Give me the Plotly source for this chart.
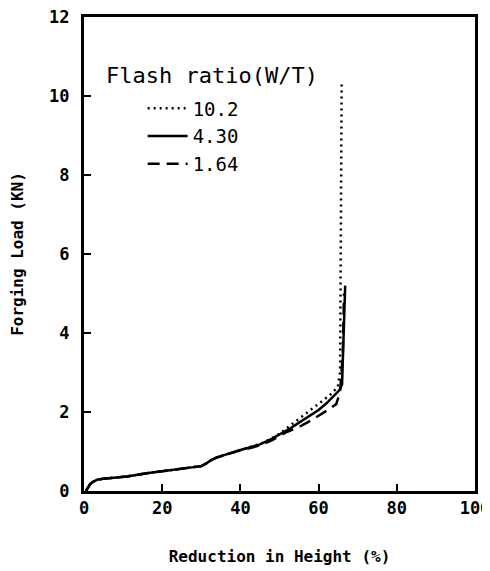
import plotly.graph_objects as go

# Flash ratio 10.2 (dotted)
x_102 = [0.5, 1.0, 1.6, 2.4, 3.5, 5, 8, 11, 16, 20, 24, 28, 30, 31.3, 32.5, 34, 37, 40, 43, 45, 48, 50,
         52, 55, 57, 60, 62.8, 64.9, 65.5, 65.6, 65.7, 65.8, 65.9]
y_102 = [0.0, 0.1, 0.18, 0.24, 0.29, 0.31, 0.34, 0.37, 0.45, 0.5, 0.55, 0.6, 0.63, 0.7, 0.78, 0.85, 0.95, 1.05, 1.13, 1.19, 1.33, 1.45,
         1.6, 1.82, 1.98, 2.2, 2.42, 2.63, 3.0, 5.0, 7.0, 9.0, 10.35]

# Flash ratio 4.30 (solid)
x_430 = [0.5, 1.0, 1.6, 2.4, 3.5, 5, 8, 11, 16, 20, 24, 28, 30, 31.3, 32.5, 34, 37, 40, 43, 45, 48, 50,
         53, 55, 58, 60, 62, 64, 65.3, 66.0, 66.3, 66.6, 66.8]
y_430 = [0.0, 0.1, 0.18, 0.24, 0.29, 0.31, 0.34, 0.37, 0.45, 0.5, 0.55, 0.6, 0.63, 0.7, 0.78, 0.85, 0.95, 1.04, 1.12, 1.18, 1.32, 1.43,
         1.6, 1.73, 1.92, 2.05, 2.22, 2.42, 2.55, 2.7, 3.5, 4.5, 5.2]

# Flash ratio 1.64 (dashed)
x_164 = [0.5, 1.0, 1.6, 2.4, 3.5, 5, 8, 11, 16, 20, 24, 28, 30, 31.3, 32.5, 34, 37, 40, 43, 45, 48, 50,
         52, 55.5, 58, 62, 64.5, 65.5, 66.2, 66.5]
y_164 = [0.0, 0.1, 0.18, 0.24, 0.29, 0.31, 0.34, 0.37, 0.45, 0.5, 0.55, 0.6, 0.63, 0.7, 0.78, 0.85, 0.95, 1.03, 1.1, 1.16, 1.28, 1.38,
         1.5, 1.65, 1.78, 2.03, 2.2, 2.5, 3.5, 5.0]

x_ticks = [0, 20, 40, 60, 80, 100]
y_ticks = [0, 2, 4, 6, 8, 10, 12]

MONO = "DejaVu Sans Mono"

fig = go.Figure()
fig.add_trace(go.Scatter(x=x_102, y=y_102, mode="lines", name="10.2",
                         line=dict(color="black", width=2.5, dash="2px,4px")))
fig.add_trace(go.Scatter(x=x_430, y=y_430, mode="lines", name="4.30",
                         line=dict(color="black", width=2.5)))
fig.add_trace(go.Scatter(x=x_164, y=y_164, mode="lines", name="1.64",
                         line=dict(color="black", width=2.5, dash="12px,7px")))

axis_common = dict(showgrid=False, zeroline=False, showline=True, linecolor="black", linewidth=3,
                   mirror=True, ticks="inside", ticklen=7, tickwidth=2, tickcolor="black",
                   automargin=False, ticklabeloverflow="allow",
                   tickfont=dict(family=MONO, size=17, color="black", weight="bold"))

fig.update_xaxes(range=[0, 100], tickvals=x_ticks, **axis_common,
                 title=dict(text="Reduction in Height (%)", standoff=34,
                            font=dict(family=MONO, size=16, color="black", weight="bold")))
fig.update_yaxes(range=[0, 12], tickvals=y_ticks, ticklabelstandoff=8, **axis_common,
                 title=dict(text="Forging Load (KN)", standoff=22,
                            font=dict(family=MONO, size=16, color="black", weight="bold")))

fig.add_annotation(text="Flash ratio(W/T)", xref="paper", yref="paper", x=0.05, y=0.876,
                   xanchor="left", yanchor="middle", showarrow=False,
                   font=dict(family=MONO, size=22, color="black"))

fig.update_layout(
    width=482, height=563,
    margin=dict(l=76, r=15, t=9, b=80),
    plot_bgcolor="white", paper_bgcolor="white",
    showlegend=True,
    legend=dict(x=0.15, y=0.847, xanchor="left", yanchor="top", bgcolor="rgba(0,0,0,0)",
                font=dict(family=MONO, size=19, color="black"), itemwidth=40,
                tracegroupgap=0),
)

fig.write_html("out.html")
